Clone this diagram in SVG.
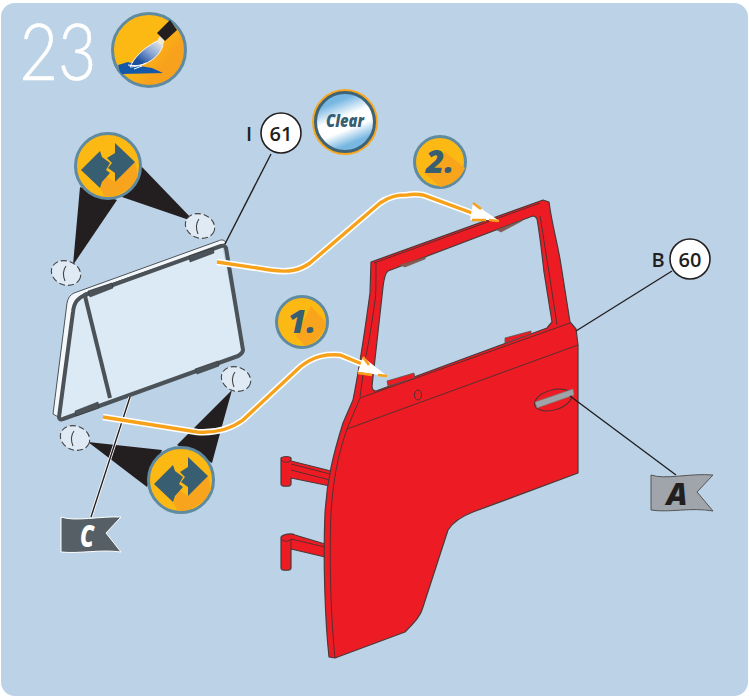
<svg xmlns="http://www.w3.org/2000/svg" width="749" height="696" viewBox="0 0 749 696">
<style>
.lead{fill:none;stroke:#231f20;stroke-width:1.4}
.callout{fill:#fff;stroke:#231f20;stroke-width:1.6}
.num{font-family:"Open Sans","Liberation Sans",sans-serif;font-weight:600;font-size:20px;fill:#231f20;text-anchor:middle}
.door{fill:#ed1c24;stroke:#4a3a3a;stroke-width:1.2;stroke-linejoin:round}
.thin{fill:none;stroke:#4a3030;stroke-width:.9}
.tab{fill:#ed1c24;stroke:#555;stroke-width:.8}
.tabb{fill:#8a5a50;stroke:#6a5a55;stroke-width:.6}
.frame{fill:none;stroke:#4b5358;stroke-width:4;stroke-linejoin:round}
.ftab{fill:#4b5358;stroke:#33393d;stroke-width:.6}
.glue{fill:#dfeaf4;stroke:#444;stroke-width:1.1;stroke-dasharray:6 3}
.gl{fill:none;stroke:#444;stroke-width:1.1}
.wedge{fill:#231f20}
.rw{fill:none;stroke:#fff;stroke-width:6.5}
.ro{fill:none;stroke:#f7a11a;stroke-width:3.4}
.hw{fill:#fff}
.ho{fill:none;stroke:#f7a11a;stroke-width:2.6}
.badge{fill:#fdb913;stroke:#5f8aa0;stroke-width:3}
.arrow{fill:#385e72}
.shade{fill:#f8a51d}
.step{font-family:"Open Sans","Liberation Sans",sans-serif;font-weight:800;font-size:32px;fill:#385e72;text-anchor:middle}
</style>
<defs>
<linearGradient id="gold2" x1="0.3" y1="0.1" x2="1" y2="0.7"><stop offset="0.4" stop-color="#fdb913"/><stop offset="0.75" stop-color="#f8a11c"/></linearGradient>
<linearGradient id="clear" x1="0.3" y1="0" x2="0.7" y2="1"><stop offset="0.15" stop-color="#77b7e2"/><stop offset="0.42" stop-color="#fff"/><stop offset="0.62" stop-color="#fff"/><stop offset="0.85" stop-color="#77b7e2"/></linearGradient>
<linearGradient id="brush" x1="0" y1="1" x2="1" y2="0"><stop offset="0.25" stop-color="#1c4fa0"/><stop offset="0.6" stop-color="#8fa9d6"/><stop offset="1" stop-color="#f2f0e4"/></linearGradient>
<g id="break">
<path class="shade" d="M-8 22 L-2 10 L7 16 L27-4 L30 10 L22 22 L8 30 L-3 31Z"/>
<path class="arrow" d="M-27 4 L-8-15 L-6-9 L2-3 L-2 4 L2 7 L-6 16 L-8 22 Z"/>
<path class="arrow" d="M27-4 L7-23 V-13 L-1-8 L4-3 L0 2 L7 7 V16 Z"/>
</g>
</defs>
<rect width="749" height="696" fill="#fff"/>
<rect x="1" y="3" width="747" height="693" rx="14" fill="#bcd3e7"/>

<g id="step-number"><text x="58" y="80" font-family="Lato,'Open Sans',sans-serif" font-weight="300" font-size="78" fill="#fff" stroke="#fff" stroke-width="0.6" text-anchor="middle" textLength="77" lengthAdjust="spacingAndGlyphs">23</text></g>

<g id="paint-icon">
<circle cx="149" cy="50" r="36.5" fill="url(#gold2)" stroke="#5f8aa0" stroke-width="3"/>
<path d="M118 65 L128 62 L140 66 L152 68 L163 73 L122 74 L120 72Z" fill="#1557a8"/>
<path d="M130 67 C134 58 142 49 157 41 L163 45 C160 56 148 66 130 67Z" fill="url(#brush)" stroke="#f4f6fa" stroke-width="1"/>
<path d="M128 65 C135 66 140 66 146 63 M134 69 L142 66" stroke="#fff" fill="none" stroke-width="1"/>
<path d="M157 41 L160 36 L165 39 L163 45Z" fill="#f1e9d0"/>
<path d="M157 33 L170 20 L177 30 L165 41Z" fill="#231f20"/>
</g>

<g id="clear-icon">
<circle cx="345" cy="122" r="33" fill="#f9a61a"/>
<circle cx="345" cy="122" r="29.5" fill="url(#clear)" stroke="#3f6478" stroke-width="3"/>
<text x="345" y="127" font-family="'Open Sans','Liberation Sans',sans-serif" font-weight="800" font-style="italic" font-size="18" fill="#385e72" text-anchor="middle" textLength="38" lengthAdjust="spacingAndGlyphs">Clear</text>
</g>

<g id="door">
<path class="door" d="M281 458 C283 456 290 456 291 458 V461 L331 471 L330 486 L291 478 V484 C291 487 281 487 281 484Z"/>
<path class="thin" d="M291 464 L330 474 M291 470 L330 480 M281 460 C284 463 289 463 291 460"/>
<path class="door" d="M281 537 C283 534 292 533 295 535 L325 544 L325 557 L291 549 V568 C291 571 281 571 281 568Z"/>
<path class="thin" d="M291 539 L325 547 M281 539 C284 542 289 542 291 539 M291 539 V549"/>
<path class="door" fill-rule="evenodd" d="M371 262 L543 200 L549 202 C552 225 558 245 561 265 L570 322 L576 329 L578 345 L578 473 L473 512 C460 517 453 522 448 530 L423 607 C421 615 416 621 405 632 L335 658 L329 657 C325 620 323 560 325 513 C327 480 333 455 343 423 L353 400 C358 375 365 330 370 293Z M388 271 L530 217 L533 216 C535 216 536 217 537 219 C540 235 542 255 544 272 L552 322 L547 328 L376 391 C373 391 372 389 372 386 L383 287 C384 278 385 273 388 271Z"/>
<path class="tab" d="M387 381 L414 373 L415 378 L388 386Z"/>
<path class="tab" d="M505 338 L531 331 V334 L505 343Z"/>
<path class="tabb" d="M400 265 L426 257 L425 259 L405 267Z"/>
<path class="tabb" d="M497 230 L523 220 L520 222 L501 232Z"/>
<path class="thin" d="M376 263 C376 280 376 297 375 300 C372 325 366 357 365 360 L360 397 M347 429 L578 345 M360 398 L570 323 M374 263 L540 203 M540 216 C544 240 546 255 549 272 L557 325 M360 398 L347 429 C338 455 333 480 331 513 C329 560 331 620 335 658"/>
<ellipse cx="418" cy="395" rx="3.5" ry="5" fill="none" stroke="#4a3030"/>
<ellipse cx="553" cy="400" rx="19" ry="10" transform="rotate(-16 553 400)" fill="#ed1c24" stroke="#4a3030"/>
<path d="M535 402 L573 389 L574 395 L537 408Z" fill="#a0a4a8" stroke="#777" stroke-width=".6"/>
</g>

<g id="window">
<path d="M60 418 L73 312 C74 302 78 297 85 294 L222 245 L242 350 L238 356Z" fill="#dceaf5"/>
<path d="M53 414 L67 303 C68 298 70 295 74 293 L218 241 C222 239 225 240 226 243 L222 245 L85 293 C78 297 74 302 73 312 L60 418Z" fill="#f4f8fb" stroke="#4b5358" stroke-width="1"/>
<path class="frame" d="M59 417 L73 312 C74 302 78 298 85 295 L221 246 C224 245 225 246 226 248 L243 350 C243 353 241 354 238 356 L63 419 C60 420 59 419 59 417Z"/>
<path class="frame" d="M85 296 L110 398"/>
<path class="ftab" d="M88 291 L112 283 L113 288 L90 297Z M189 256 L213 248 L214 253 L190 262Z M75 411 L98 402 L99 408 L76 416Z M195 369 L218 361 L219 366 L197 374Z"/>
</g>

<g id="glue-marks">
<path class="wedge" d="M80 187 L73 265 L117 200Z"/>
<path class="wedge" d="M142 167 L195 222 L122 197Z"/>
<path class="wedge" d="M88 442 L162 450 L147 487Z"/>
<path class="wedge" d="M232 390 L177 445 L212 463 L219 437Z"/>
<ellipse cx="66" cy="273" rx="15" ry="12" transform="rotate(20 66 273)" class="glue"/>
<path class="gl" d="M66 266 C63 270 63 276 65 281"/>
<ellipse cx="200" cy="226" rx="15" ry="12" transform="rotate(20 200 226)" class="glue"/>
<path class="gl" d="M199 219 C196 223 196 229 198 234"/>
<ellipse cx="75" cy="438" rx="15" ry="12" transform="rotate(20 75 438)" class="glue"/>
<path class="gl" d="M74 431 C71 435 71 441 73 446"/>
<ellipse cx="236" cy="379" rx="15" ry="12" transform="rotate(20 236 379)" class="glue"/>
<path class="gl" d="M235 372 C232 376 232 382 234 387"/>
</g>

<g id="break-icon-top"><circle cx="108" cy="166" r="32.5" class="badge"/><use href="#break" x="108" y="166"/></g>
<g id="break-icon-bottom"><circle cx="181" cy="480" r="32.5" class="badge"/><use href="#break" x="181" y="480"/></g>

<g id="connectors">
<path class="lead" d="M271 154 L225 244"/>
<path class="lead" d="M672 271 L576 331"/>
<path class="lead" d="M570 396 L676 475"/>
<path d="M130 397 L91 517" fill="none" stroke="#fff" stroke-width="3"/>
<path class="lead" d="M130 397 L91 517"/>
<g id="arrow-1">
<path class="rw" d="M103 417 L197 432 C212 433 228 431 243 420 L300 367 C315 355 328 354 340 355 L362 364"/>
<path class="ro" d="M103 417 L197 432 C212 433 228 431 243 420 L300 367 C315 355 328 354 340 355 L362 364"/>
<path class="hw" d="M358 372 L363 357 L387 376Z"/>
<path class="ho" d="M363 357 L369 365 M358 373 L372 375 M378 375 L387 376"/>
</g>
<g id="arrow-2">
<path class="rw" d="M217 262 L270 270 C290 273 300 270 310 263 L380 203 C390 196 398 195 407 195 C412 194 418 194 423 195 L472 213"/>
<path class="ro" d="M217 262 L270 270 C290 273 300 270 310 263 L380 203 C390 196 398 195 407 195 C412 194 418 194 423 195 L472 213"/>
<path class="hw" d="M473 203 L470 220 L498 220Z"/>
<path class="ho" d="M473 203 L481 209 M472 220 L486 220 M489 220 L499 221"/>
</g>
</g>

<g id="callout-61"><circle cx="281" cy="133" r="20" class="callout"/><text x="281" y="141" class="num">61</text><text x="249" y="141" class="num">I</text></g>
<g id="callout-60"><circle cx="690" cy="259" r="20" class="callout"/><text x="690" y="267" class="num">60</text><text x="658" y="267" class="num">B</text></g>

<g id="step-1"><circle cx="302" cy="322" r="25.5" class="badge"/><path class="shade" d="M311 306 L326 322 C324 335 315 343 305 346 L296 336Z"/><text x="302" y="333" class="step" font-style="italic">1.</text></g>
<g id="step-2"><circle cx="440" cy="162" r="25.5" class="badge"/><path class="shade" d="M445 152 L465 168 C461 178 452 185 440 187 L425 173Z"/><text x="440" y="173" class="step" font-style="italic">2.</text></g>

<g id="flag-a"><path d="M651 475 C665 480 690 473 713 475 L697 492 L713 511 C690 507 670 513 651 510Z" fill="#a0a4ab" stroke="#555" stroke-width="1"/><text x="677" y="505" font-family="'Open Sans','Liberation Sans',sans-serif" font-weight="800" font-style="italic" font-size="30" fill="#231f20" text-anchor="middle" textLength="21" lengthAdjust="spacingAndGlyphs">A</text></g>
<g id="flag-c"><path d="M61 517 C75 522 100 516 121 517 L106 533 L121 552 C100 549 80 554 61 552Z" fill="#565f66" stroke="#fff" stroke-width="1"/><text x="87" y="547" font-family="'Open Sans','Liberation Sans',sans-serif" font-weight="800" font-style="italic" font-size="30" fill="#fff" text-anchor="middle" textLength="14" lengthAdjust="spacingAndGlyphs">C</text></g>
</svg>
